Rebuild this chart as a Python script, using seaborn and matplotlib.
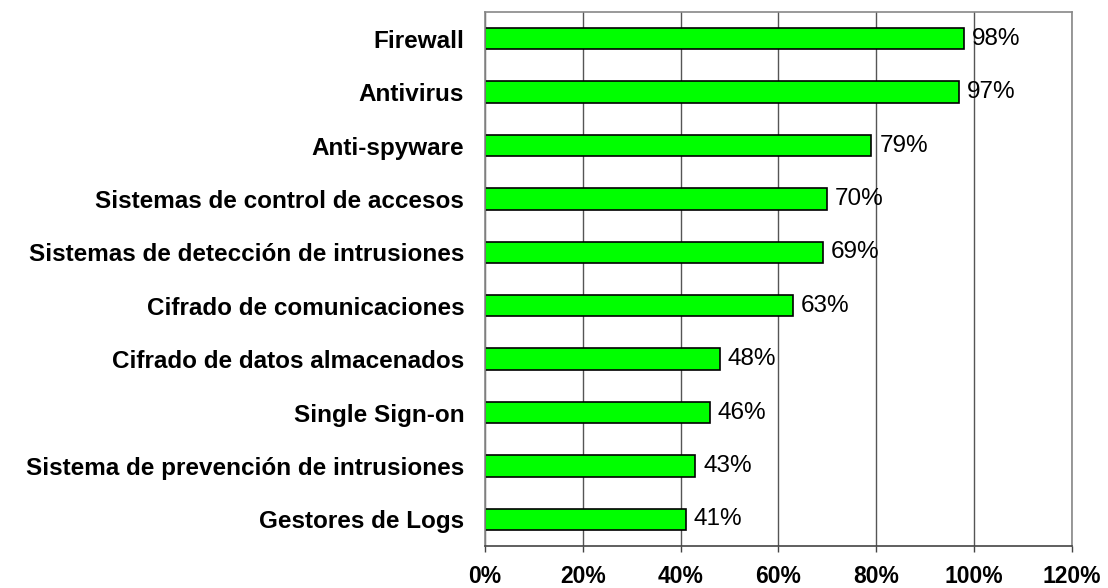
import matplotlib
matplotlib.use("Agg")
import matplotlib.pyplot as plt
import seaborn as sns
import pandas as pd
from matplotlib.ticker import FuncFormatter

categorias = [
    "Firewall",
    "Antivirus",
    "Anti-spyware",
    "Sistemas de control de accesos",
    "Sistemas de detección de intrusiones",
    "Cifrado de comunicaciones",
    "Cifrado de datos almacenados",
    "Single Sign-on",
    "Sistema de prevención de intrusiones",
    "Gestores de Logs",
]
porcentajes = [98, 97, 79, 70, 69, 63, 48, 46, 43, 41]
ticks_x = [0, 20, 40, 60, 80, 100, 120]

df = pd.DataFrame({"Categoria": categorias, "Porcentaje": porcentajes})

sns.set_style("white")
plt.rcParams["font.family"] = ["Liberation Sans", "DejaVu Sans"]

fig = plt.figure(figsize=(11.08, 5.88), dpi=100)
ax = fig.add_axes([0.4377, 0.0714, 0.5298, 0.9082])

sns.barplot(data=df, y="Categoria", x="Porcentaje", orient="h",
            color="#00FF00", edgecolor="black", linewidth=1.2,
            width=0.4, saturation=1, ax=ax)

for i, v in enumerate(porcentajes):
    ax.text(v + 1.6, i, f"{v}%", va="center", ha="left", fontsize=17.5, color="black")

ax.set_xlim(0, 120)
ax.set_ylim(len(categorias) - 0.5, -0.5)
ax.set_xticks(ticks_x)
ax.xaxis.set_major_formatter(FuncFormatter(lambda v, p: f"{int(v)}%"))
ax.set_xlabel("")
ax.set_ylabel("")

ax.grid(axis="x", color="#555555", linewidth=1)
ax.set_axisbelow(True)
ax.tick_params(axis="x", direction="out", length=4.5, width=1, color="#444444",
               labelsize=16.5, pad=9.5, bottom=True)
ax.tick_params(axis="y", length=0, labelsize=17.5, pad=15)
for lab in ax.get_xticklabels() + ax.get_yticklabels():
    lab.set_fontweight("bold")
    lab.set_color("black")

for s in ["top", "right", "left"]:
    ax.spines[s].set_color("#888888")
    ax.spines[s].set_linewidth(1.2)
ax.spines["bottom"].set_color("#444444")
ax.spines["bottom"].set_linewidth(1.2)

fig.savefig("out.png", dpi=100)
